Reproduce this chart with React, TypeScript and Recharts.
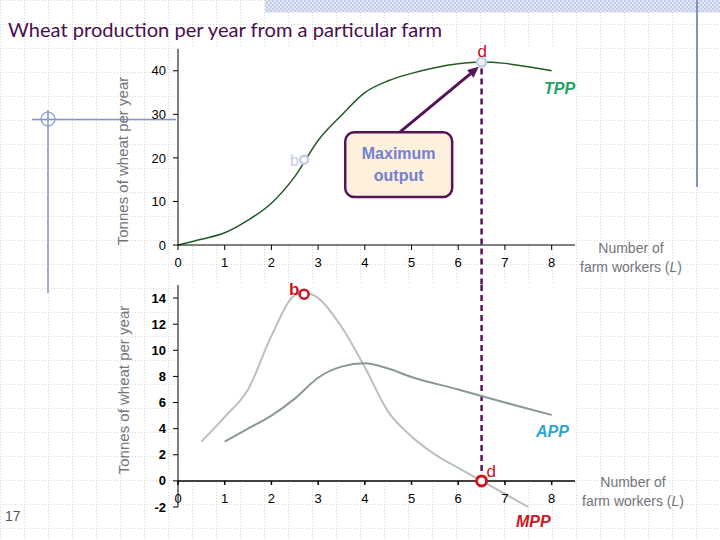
import React from 'react';
import { LineChart, Line, XAxis, YAxis, ReferenceLine, ReferenceDot, ReferenceArea } from 'recharts';

// ---------- data ----------
const xTicks = [0, 1, 2, 3, 4, 5, 6, 7, 8];
const tppYTicks = [0, 10, 20, 30, 40];
const perWorkerYTicks = [-2, 0, 2, 4, 6, 8, 10, 12, 14];

const tppWorkers = [0, 0.5, 1, 1.5, 2, 2.5, 3, 3.5, 4, 4.5, 5, 5.5, 6, 6.5, 7, 7.5, 8];
const tppTonnes = [0, 1.3, 2.8, 5.7, 9.6, 15.7, 24, 29.8, 35.0, 37.7, 39.4, 40.7, 41.6, 42, 41.7, 40.9, 40];

const mppWorkers = [0.5, 1, 1.5, 2, 2.5, 2.7, 3, 3.5, 4, 4.5, 5, 5.6, 6, 6.5, 7, 7.5];
const mppTonnes = [3, 4.9, 7.0, 11.1, 14.2, 14.4, 14.0, 11.8, 8.7, 5.3, 3.4, 1.8, 1.0, 0, -1.0, -2.0];

const appWorkers = [1, 1.5, 2, 2.5, 3, 3.5, 4, 4.5, 5, 6, 7, 8];
const appTonnes = [3, 4.0, 5.0, 6.3, 7.9, 8.75, 9.0, 8.6, 7.95, 7.0, 6.0, 5.05];

const maxWorkers = 6.5;
const maxTpp = 42;
const bWorkers = 2.7;
const bTpp = 19.6;
const bMpp = 14.3;

const tppData = tppWorkers.map((l, i) => ({ l, v: tppTonnes[i] }));
const mppData = mppWorkers.map((l, i) => ({ l, v: mppTonnes[i] }));
const appData = appWorkers.map((l, i) => ({ l, v: appTonnes[i] }));

// ---------- styles ----------
const tickFont = 'Liberation Sans, Arial, sans-serif';
const purple = '#561456';
const red = '#d0141e';

const ArrowShape = (props: any) => {
  const { x1, y1, x2, y2 } = props;
  const ang = Math.atan2(y2 - y1, x2 - x1);
  const len = 11;
  const w = 5;
  const bx = x2 - len * Math.cos(ang);
  const by = y2 - len * Math.sin(ang);
  const px = -Math.sin(ang) * w;
  const py = Math.cos(ang) * w;
  return (
    <g>
      <line x1={x1} y1={y1} x2={bx} y2={by} stroke={purple} strokeWidth={3} />
      <polygon points={`${x2},${y2} ${bx + px},${by + py} ${bx - px},${by - py}`} fill={purple} />
    </g>
  );
};

const CalloutShape = (props: any) => {
  const { x, y, width, height } = props;
  const cx = x + width / 2;
  const cy = y + height / 2;
  return (
    <g>
      <rect x={x} y={y} width={width} height={height} rx={9} ry={9} fill="#fdf0dc" stroke={purple} strokeWidth={2.5} />
      <text x={cx} y={cy - 6} textAnchor="middle" fontFamily={tickFont} fontWeight="bold" fontSize={16} fill="#7381d2">Maximum</text>
      <text x={cx} y={cy + 16} textAnchor="middle" fontFamily={tickFont} fontWeight="bold" fontSize={16} fill="#7381d2">output</text>
    </g>
  );
};

const FadedB = (props: any) => {
  const { cx, cy } = props;
  return (
    <g>
      <circle cx={cx} cy={cy} r={4} fill="#fff" stroke="#c6cde8" strokeWidth={2.5} />
      <text x={cx - 14} y={cy + 6} fontFamily={tickFont} fontSize={16} fill="#c6cde8">b</text>
    </g>
  );
};

const TopD = (props: any) => {
  const { cx, cy } = props;
  return (
    <g>
      <circle cx={cx} cy={cy} r={4.5} fill="#eef2fb" stroke="#c2cdea" strokeWidth={2.5} />
      <text x={cx - 4} y={cy - 5} fontFamily={tickFont} fontSize={17} fill="#c0101c">d</text>
    </g>
  );
};

const BottomB = (props: any) => {
  const { cx, cy } = props;
  return (
    <g>
      <circle cx={cx} cy={cy} r={4.5} fill="#fff" stroke={red} strokeWidth={2.5} />
      <text x={cx - 15} y={cy + 1} fontFamily={tickFont} fontWeight="bold" fontSize={17} fill={red}>b</text>
    </g>
  );
};

const BottomD = (props: any) => {
  const { cx, cy } = props;
  return (
    <g>
      <circle cx={cx} cy={cy} r={5} fill="#fff" stroke={red} strokeWidth={3} />
      <text x={cx + 5} y={cy - 4} fontFamily={tickFont} fontSize={17} fill={red}>d</text>
    </g>
  );
};

const makeXTick = (label: string) => (props: any) => {
  const { cx, cy } = props;
  return (
    <g>
      <line x1={cx} y1={cy} x2={cx} y2={cy + 4} stroke="#000" strokeWidth={1.5} />
      <text x={cx} y={cy + 22} textAnchor="middle" fontFamily={tickFont} fontSize={13} fill="#000">{label}</text>
    </g>
  );
};

const greyText = '#74747c';

export default function App() {
  return (
    <div style={{ position: 'fixed', left: 0, top: 0, width: 720, height: 540, background: '#fff', overflow: 'hidden' }}>
      {/* background: grid, white plot areas, decorations */}
      <svg width={720} height={540} style={{ position: 'absolute', left: 0, top: 0 }}>
        <defs>
          <pattern id="grid" width={24} height={24} patternUnits="userSpaceOnUse">
            <path d="M0 0.5 H24 M0.5 0 V24" stroke="#d6d6d6" strokeWidth={1} strokeDasharray="1 2" fill="none" />
          </pattern>
          <pattern id="check" width={4} height={4} patternUnits="userSpaceOnUse">
            <rect width={4} height={4} fill="#e2e7f5" />
            <rect width={2} height={2} fill="#c3cdea" />
            <rect x={2} y={2} width={2} height={2} fill="#c3cdea" />
          </pattern>
        </defs>
        <rect width={720} height={540} fill="url(#grid)" />
        <rect x={265} y={0} width={455} height={12.5} fill="url(#check)" />
        <rect x={178} y={48} width={397} height={197} fill="#fff" />
        <rect x={178} y={283} width={397} height={198} fill="#fff" />
        <line x1={32} y1={119.5} x2={176} y2={119.5} stroke="#8494c8" strokeWidth={1.5} />
        <line x1={48} y1={110} x2={48} y2={293} stroke="#8494c8" strokeWidth={1.5} />
        <circle cx={48} cy={119} r={7} fill="none" stroke="#8494c8" strokeWidth={1.2} />
        <line x1={697} y1={0} x2={697} y2={187} stroke="#8492c0" strokeWidth={2} />
      </svg>

      {/* Total physical product */}
      <div style={{ position: 'absolute', left: 0, top: 0 }}>
        <LineChart width={720} height={290} data={tppData} margin={{ top: 49, right: 145, left: 138, bottom: 15 }}>
          <XAxis
            dataKey="l"
            type="number"
            domain={[0, 8.5]}
            ticks={xTicks}
            interval={0}
            allowDataOverflow
            height={30}
            tickSize={5}
            tickMargin={8}
            stroke="#000"
            tick={{ fill: '#000', fontSize: 13, fontFamily: tickFont }}
          />
          <YAxis
            type="number"
            domain={[0, 45]}
            ticks={tppYTicks}
            interval={0}
            width={40}
            tickSize={5}
            tickMargin={7}
            stroke="#000"
            tick={{ fill: '#000', fontSize: 13, fontFamily: tickFont }}
          />
          <ReferenceLine
            segment={[{ x: maxWorkers, y: maxTpp - 1.5 }, { x: maxWorkers, y: -9.2 }]}
            ifOverflow="visible"
            stroke={purple}
            strokeWidth={2.5}
            strokeDasharray="6 4"
          />
          <Line dataKey="v" type="monotone" stroke="#1f5c25" strokeWidth={1.5} dot={false} isAnimationActive={false} />
          <ReferenceArea x1={3.58} x2={5.87} y1={11} y2={25.9} shape={CalloutShape} ifOverflow="visible" />
          <ReferenceLine
            segment={[{ x: 4.75, y: 25.9 }, { x: 6.44, y: 40.9 }]}
            ifOverflow="visible"
            shape={ArrowShape}
          />
          <ReferenceDot x={bWorkers} y={bTpp} r={4} shape={FadedB} ifOverflow="visible" />
          <ReferenceDot x={maxWorkers} y={maxTpp} r={4.5} shape={TopD} ifOverflow="visible" />
        </LineChart>
      </div>

      {/* Marginal and average physical product */}
      <div style={{ position: 'absolute', left: 0, top: 0 }}>
        <LineChart width={720} height={540} margin={{ top: 285, right: 145, left: 138, bottom: 33 }}>
          <XAxis dataKey="l" type="number" domain={[0, 8.5]} ticks={xTicks} hide height={0} allowDataOverflow />
          <YAxis
            type="number"
            domain={[-2, 15]}
            ticks={perWorkerYTicks}
            interval={0}
            width={40}
            tickSize={5}
            tickMargin={7}
            stroke="#000"
            tick={{ fill: '#000', fontSize: 13, fontFamily: tickFont, fontWeight: 'bold' }}
          />
          <ReferenceLine y={0} stroke="#000" strokeWidth={1.5} />
          {xTicks.map((t) => (
            <ReferenceDot key={t} x={t} y={0} r={1} shape={makeXTick(String(t))} ifOverflow="visible" />
          ))}
          <ReferenceLine
            segment={[{ x: maxWorkers, y: 15 }, { x: maxWorkers, y: 0 }]}
            ifOverflow="visible"
            stroke={purple}
            strokeWidth={2.5}
            strokeDasharray="6 4"
          />
          <Line data={mppData} dataKey="v" type="monotone" stroke="#b6c2ba" strokeWidth={2} dot={false} isAnimationActive={false} />
          <Line data={appData} dataKey="v" type="monotone" stroke="#8a9a92" strokeWidth={2} dot={false} isAnimationActive={false} />
          <ReferenceDot x={bWorkers} y={bMpp} r={4.5} shape={BottomB} ifOverflow="visible" />
          <ReferenceDot x={maxWorkers} y={0} r={5} shape={BottomD} ifOverflow="visible" />
        </LineChart>
      </div>

      {/* text overlay */}
      <svg width={720} height={540} style={{ position: 'absolute', left: 0, top: 0, pointerEvents: 'none' }}>
        <text x={8} y={37} fontFamily="Lato, sans-serif" fontSize={20} fill="#4a0e4e" textLength={434} lengthAdjust="spacingAndGlyphs">
          Wheat production per year from a particular farm
        </text>
        <text transform="translate(128,161) rotate(-90)" textAnchor="middle" fontFamily={tickFont} fontSize={15} fill={greyText}>
          Tonnes of wheat  per year
        </text>
        <text transform="translate(129,390) rotate(-90)" textAnchor="middle" fontFamily={tickFont} fontSize={15} fill={greyText}>
          Tonnes of wheat  per year
        </text>
        <text x={631} y={253} textAnchor="middle" fontFamily={tickFont} fontSize={14} fill={greyText}>Number of</text>
        <text x={631} y={272} textAnchor="middle" fontFamily={tickFont} fontSize={14} fill={greyText}>
          farm workers (<tspan fontStyle="italic">L</tspan>)
        </text>
        <text x={633} y={487} textAnchor="middle" fontFamily={tickFont} fontSize={14} fill={greyText}>Number of</text>
        <text x={633} y={506} textAnchor="middle" fontFamily={tickFont} fontSize={14} fill={greyText}>
          farm workers (<tspan fontStyle="italic">L</tspan>)
        </text>
        <text x={544} y={94} fontFamily={tickFont} fontSize={16} fontWeight="bold" fontStyle="italic" fill="#22a062">TPP</text>
        <text x={536} y={437} fontFamily={tickFont} fontSize={16} fontWeight="bold" fontStyle="italic" fill="#2aa6d6">APP</text>
        <text x={516} y={527} fontFamily={tickFont} fontSize={16} fontWeight="bold" fontStyle="italic" fill={red}>MPP</text>
        <text x={5} y={521} fontFamily={tickFont} fontSize={14} fill="#555">17</text>
      </svg>
    </div>
  );
}
